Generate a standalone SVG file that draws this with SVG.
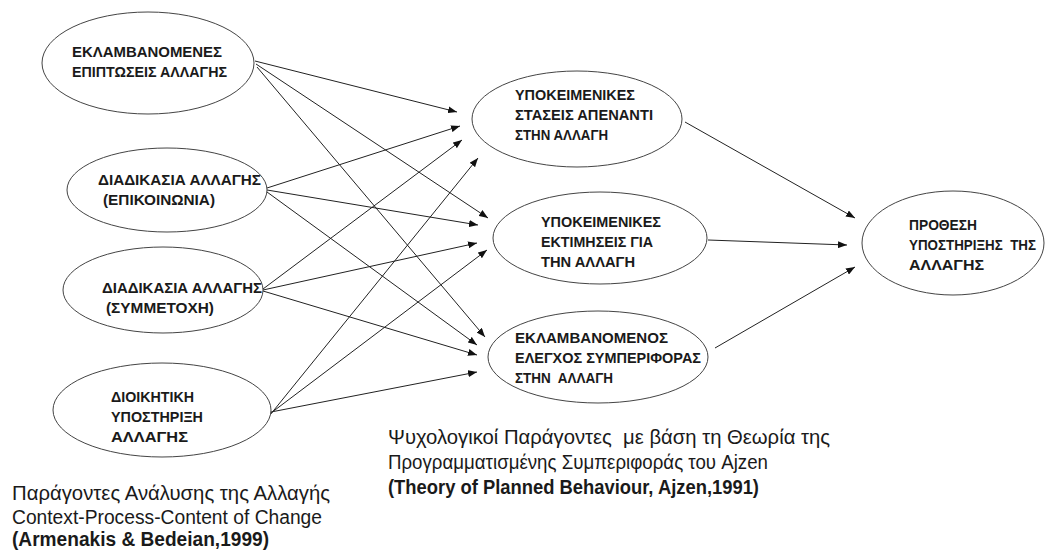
<svg xmlns="http://www.w3.org/2000/svg" width="1045" height="551" viewBox="0 0 1045 551">
<defs>
<marker id="ah" markerUnits="userSpaceOnUse" markerWidth="9" markerHeight="7" refX="9" refY="3.5" orient="auto">
<path d="M0,0 L9,3.5 L0,7 z" fill="#111"/>
</marker>
<style>
.n{fill:#fff;stroke:#444;stroke-width:1}
.t{font-family:"Liberation Sans",Arial,sans-serif;font-weight:bold;font-size:14.5px;fill:#1a1a1a}
.c{fill:none;stroke:#222;stroke-width:1;marker-end:url(#ah)}
.cap{font-family:"Liberation Sans",Arial,sans-serif;font-size:19.5px;fill:#1a1a1a}
.b{font-weight:bold}
</style>
</defs>
<rect width="1045" height="551" fill="#fff"/>
<g id="connectors">
<line class="c" x1="255" y1="61" x2="457" y2="112"/>
<line class="c" x1="256" y1="64" x2="488" y2="218"/>
<line class="c" x1="257" y1="67" x2="485" y2="337"/>
<line class="c" x1="267" y1="188" x2="460" y2="126"/>
<line class="c" x1="267" y1="190" x2="478" y2="225"/>
<line class="c" x1="267" y1="192" x2="477" y2="345"/>
<line class="c" x1="263" y1="289" x2="462" y2="140"/>
<line class="c" x1="263" y1="290" x2="477" y2="243"/>
<line class="c" x1="263" y1="291" x2="477" y2="355"/>
<line class="c" x1="270" y1="415" x2="478" y2="158"/>
<line class="c" x1="271" y1="413" x2="487" y2="250"/>
<line class="c" x1="271" y1="412" x2="477" y2="372"/>
<line class="c" x1="685" y1="122" x2="855" y2="218"/>
<line class="c" x1="708" y1="240" x2="847" y2="245"/>
<line class="c" x1="715" y1="348" x2="855" y2="267"/>
</g>
<g id="n1">
<ellipse class="n" cx="148" cy="63" rx="106" ry="51"/>
<text class="t" x="72" y="57" textLength="150" lengthAdjust="spacingAndGlyphs">ΕΚΛΑΜΒΑΝΟΜΕΝΕΣ</text>
<text class="t" x="72" y="77" textLength="155" lengthAdjust="spacingAndGlyphs">ΕΠΙΠΤΩΣΕΙΣ ΑΛΛΑΓΗΣ</text>
</g>
<g id="n2">
<ellipse class="n" cx="167" cy="190" rx="100" ry="42"/>
<text class="t" x="98" y="185" textLength="163" lengthAdjust="spacingAndGlyphs">ΔΙΑΔΙΚΑΣΙΑ ΑΛΛΑΓΗΣ</text>
<text class="t" x="103" y="205" textLength="112" lengthAdjust="spacingAndGlyphs">(ΕΠΙΚΟΙΝΩΝΙΑ)</text>
</g>
<g id="n3">
<ellipse class="n" cx="163" cy="290" rx="100" ry="43"/>
<text class="t" x="102" y="293" textLength="160" lengthAdjust="spacingAndGlyphs">ΔΙΑΔΙΚΑΣΙΑ ΑΛΛΑΓΗΣ</text>
<text class="t" x="106" y="313" textLength="108" lengthAdjust="spacingAndGlyphs">(ΣΥΜΜΕΤΟΧΗ)</text>
</g>
<g id="n4">
<ellipse class="n" cx="162" cy="410" rx="109" ry="47"/>
<text class="t" x="111" y="402" textLength="83" lengthAdjust="spacingAndGlyphs">ΔΙΟΙΚΗΤΙΚΗ</text>
<text class="t" x="111" y="422" textLength="92" lengthAdjust="spacingAndGlyphs">ΥΠΟΣΤΗΡΙΞΗ</text>
<text class="t" x="111" y="442" textLength="77" lengthAdjust="spacingAndGlyphs">ΑΛΛΑΓΗΣ</text>
</g>
<g id="m1">
<ellipse class="n" cx="577" cy="119" rx="105" ry="48"/>
<text class="t" x="515" y="100" textLength="120" lengthAdjust="spacingAndGlyphs">ΥΠΟΚΕΙΜΕΝΙΚΕΣ</text>
<text class="t" x="515" y="120" textLength="138" lengthAdjust="spacingAndGlyphs">ΣΤΑΣΕΙΣ ΑΠΕΝΑΝΤΙ</text>
<text class="t" x="515" y="140" textLength="93" lengthAdjust="spacingAndGlyphs">ΣΤΗΝ ΑΛΛΑΓΗ</text>
</g>
<g id="m2">
<ellipse class="n" cx="600" cy="238" rx="107" ry="46"/>
<text class="t" x="541" y="227" textLength="120" lengthAdjust="spacingAndGlyphs">ΥΠΟΚΕΙΜΕΝΙΚΕΣ</text>
<text class="t" x="541" y="247" textLength="112" lengthAdjust="spacingAndGlyphs">ΕΚΤΙΜΗΣΕΙΣ ΓΙΑ</text>
<text class="t" x="541" y="267" textLength="94" lengthAdjust="spacingAndGlyphs">ΤΗΝ ΑΛΛΑΓΗ</text>
</g>
<g id="m3">
<ellipse class="n" cx="598" cy="357" rx="110" ry="46"/>
<text class="t" x="515" y="343" textLength="153" lengthAdjust="spacingAndGlyphs">ΕΚΛΑΜΒΑΝΟΜΕΝΟΣ</text>
<text class="t" x="515" y="363" textLength="186" lengthAdjust="spacingAndGlyphs">ΕΛΕΓΧΟΣ ΣΥΜΠΕΡΙΦΟΡΑΣ</text>
<text class="t" x="515" y="383" textLength="98" lengthAdjust="spacingAndGlyphs" xml:space="preserve">ΣΤΗΝ  ΑΛΛΑΓΗ</text>
</g>
<g id="r1">
<ellipse class="n" cx="953" cy="243" rx="91" ry="52"/>
<text class="t" x="909" y="230" textLength="68" lengthAdjust="spacingAndGlyphs">ΠΡΟΘΕΣΗ</text>
<text class="t" x="909" y="250" textLength="127" lengthAdjust="spacingAndGlyphs" xml:space="preserve">ΥΠΟΣΤΗΡΙΞΗΣ  ΤΗΣ</text>
<text class="t" x="909" y="270" textLength="75" lengthAdjust="spacingAndGlyphs">ΑΛΛΑΓΗΣ</text>
</g>
<g id="captions">
<text class="cap" x="388" y="444" textLength="442" lengthAdjust="spacingAndGlyphs" xml:space="preserve">Ψυχολογικοί Παράγοντες  με βάση τη Θεωρία της</text>
<text class="cap" x="388" y="469" textLength="380" lengthAdjust="spacingAndGlyphs">Προγραμματισμένης Συμπεριφοράς του Ajzen</text>
<text class="cap b" x="388" y="494" textLength="371" lengthAdjust="spacingAndGlyphs">(Theory of Planned Behaviour, Ajzen,1991)</text>
<text class="cap" x="12" y="500" textLength="318" lengthAdjust="spacingAndGlyphs">Παράγοντες Ανάλυσης της Αλλαγής</text>
<text class="cap" x="12" y="524" textLength="310" lengthAdjust="spacingAndGlyphs">Context-Process-Content of Change</text>
<text class="cap b" x="12" y="546" textLength="257" lengthAdjust="spacingAndGlyphs">(Armenakis &amp; Bedeian,1999)</text>
</g>
</svg>
